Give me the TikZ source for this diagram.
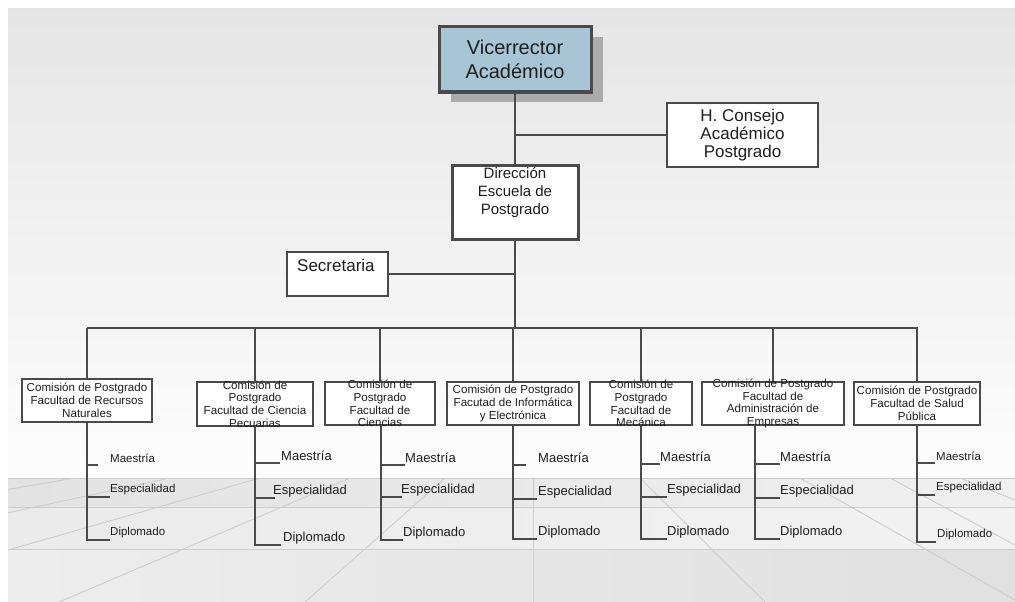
\documentclass[tikz,border=0pt]{standalone}
\usepackage{fontspec}
\setmainfont{Liberation Sans}
\usetikzlibrary{calc}
\definecolor{edge}{HTML}{4A4A4A}
\definecolor{ink}{HTML}{1E1E1E}
\definecolor{vrfill}{HTML}{A8C5D6}
\definecolor{floorgray}{HTML}{CDCDCD}
\begin{document}
\begin{tikzpicture}[x=1pt,y=-1pt,
  orgbox/.style={draw=edge, fill=white, line width=1.5pt, inner sep=0pt, rectangle},
  heavybox/.style={orgbox, line width=3pt},
  wire/.style={draw=edge, line width=1.8pt},
  boxtext/.style={inner sep=0pt, align=center, text=ink},
  factext/.style={boxtext, font=\fontsize{11.6}{12.8}\selectfont},
  progsmall/.style={font=\fontsize{11.5}{13}\selectfont},
  progbig/.style={font=\fontsize{13}{15}\selectfont},
  prog/.style={inner sep=0pt, anchor=west, text=ink},
  floorline/.style={draw=floorgray, line width=0.9pt}]

% page and backdrop
\useasboundingbox (0,0) rectangle (1015,602);
\fill[white] (0,0) rectangle (1015,602);
\shade[top color=black!10, bottom color=black!4] (8,9) rectangle (1015,300);
\shade[top color=black!4, bottom color=black!1] (8,300) rectangle (1015,478);

% floor with perspective grid
\shade[left color=black!11, right color=black!6] (8,478) rectangle (1015,507);
\shade[left color=black!8, right color=black!5] (8,507) rectangle (1015,549);
\shade[left color=black!7, middle color=black!2, right color=black!12] (8,549) rectangle (1015,602);
\begin{scope}
  \clip (8,478) rectangle (1015,602);
  \coordinate (vp) at (533,400);
  \foreach \cx in {75,170,260,350,445}
    \draw[floorline] (vp) -- ($(vp)!4!(\cx,478)$);
  \draw[floorline] (533,478) -- (533,602);
  \draw[floorline] (640,478) -- (765,602);
  \draw[floorline] (800,478) -- (1015,600);
  \draw[floorline] (890,478) -- (1015,545);
  \draw[floorline] (960,478) -- (1015,500);
  \foreach \hy in {478,507,549}
    \draw[floorline] (8,\hy) -- (1015,\hy);
\end{scope}

% upper levels
\fill[black!33] (451,37) rectangle (603,102);
\node[heavybox, fill=vrfill, minimum width=152pt, minimum height=65pt,
      boxtext, font=\fontsize{20}{24}\selectfont] (vr) at (515,59.5) {Vicerrector\\Académico};
\node[orgbox, minimum width=151pt, minimum height=64pt,
      boxtext, font=\fontsize{17}{18}\selectfont] (hc) at (742.5,135) {H. Consejo\\Académico\\Postgrado};
\node[heavybox, minimum width=126pt, minimum height=74pt] (dir) at (515,202) {};
\node[boxtext, font=\fontsize{15}{18}\selectfont] (dirt) at (515,193) {Dirección\\Escuela de\\Postgrado};
\node[orgbox, minimum width=101pt, minimum height=44pt] (sec) at (337.5,274) {};
\node[boxtext, anchor=west, font=\fontsize{17}{20}\selectfont] (sect) at (297,265) {Secretaria};

% faculty committees
\foreach \f/\cx/\cy/\w/\h in {f1/87/400.5/130/43, f2/255/404/116/44, f3/380/403.5/110/43,
    f4/513/403.5/132/43, f5/641/403.5/102/43, f6/773/403.5/142/43, f7/917/403.5/126/43}
  \node[orgbox, minimum width=\w pt, minimum height=\h pt] (\f) at (\cx,\cy) {};
\node[factext] (f1t) at (f1) {Comisión de Postgrado\\Facultad de Recursos\\Naturales};
\node[factext] (f2t) at (f2) {Comisión de\\Postgrado\\Facultad de Ciencia\\Pecuarias};
\node[factext] (f3t) at (f3) {Comisión de\\Postgrado\\Facultad de\\Ciencias};
\node[factext] (f4t) at (f4) {Comisión de Postgrado\\Facutad de Informática\\y Electrónica};
\node[factext] (f5t) at (f5) {Comisión de\\Postgrado\\Facultad de\\Mecánica};
\node[factext] (f6t) at (f6) {Comisión de Postgrado\\Facultad de\\Administración de\\Empresas};
\node[factext] (f7t) at (f7) {Comisión de Postgrado\\Facultad de Salud\\Pública};

% connectors of the upper levels
\coordinate (busL) at (87,328);
\coordinate (busR) at (918,328);
\draw[wire] (vr.south) -- (dir.north);
\draw[wire] (vr.south |- hc.west) -- (hc.west);
\draw[wire] (dir.south) -- (dir.south |- busL);
\draw[wire] (sec.east) -- (sec.east -| dir.south);
\draw[wire] (busL) -- (busR);
\foreach \f in {f1,f2,f3,f4,f5,f6,f7}
  \draw[wire] (\f.north) -- (\f.north |- busL);

% programmes under each committee
\foreach \f/\tx/\sz/\my/\mx/\mlx/\ey/\ex/\elx/\dy/\dx/\dlx in {
    f1/87/progsmall/465/98/110/497/110/110/540/110/110,
    f2/255/progbig/463/280/281/498/275/273/545/281/283,
    f3/381/progbig/465/405/405/497/402/401/540/403/403,
    f4/513/progbig/465/526/538/499/537/538/539/537/538,
    f5/641/progbig/464/660/660/497/667/667/539/667/667,
    f6/755/progbig/464/780/780/498/780/780/539/780/780,
    f7/917/progsmall/463/935/936/495/935/936/542/936/937}{
  \coordinate (\f-end) at (\tx,\dy);
  \draw[wire] (\f-end |- \f.south) -- (\f-end) -- (\dx,\dy);
  \draw[wire] (\tx,\my) -- (\mx,\my);
  \draw[wire] (\tx,\ey) -- (\ex,\ey);
  \node[prog,\sz] (\f-m) at (\mlx,\my-7) {Maestría};
  \node[prog,\sz] (\f-e) at (\elx,\ey-7) {Especialidad};
  \node[prog,\sz] (\f-d) at (\dlx,\dy-7) {Diplomado};
}
\end{tikzpicture}
\end{document}
